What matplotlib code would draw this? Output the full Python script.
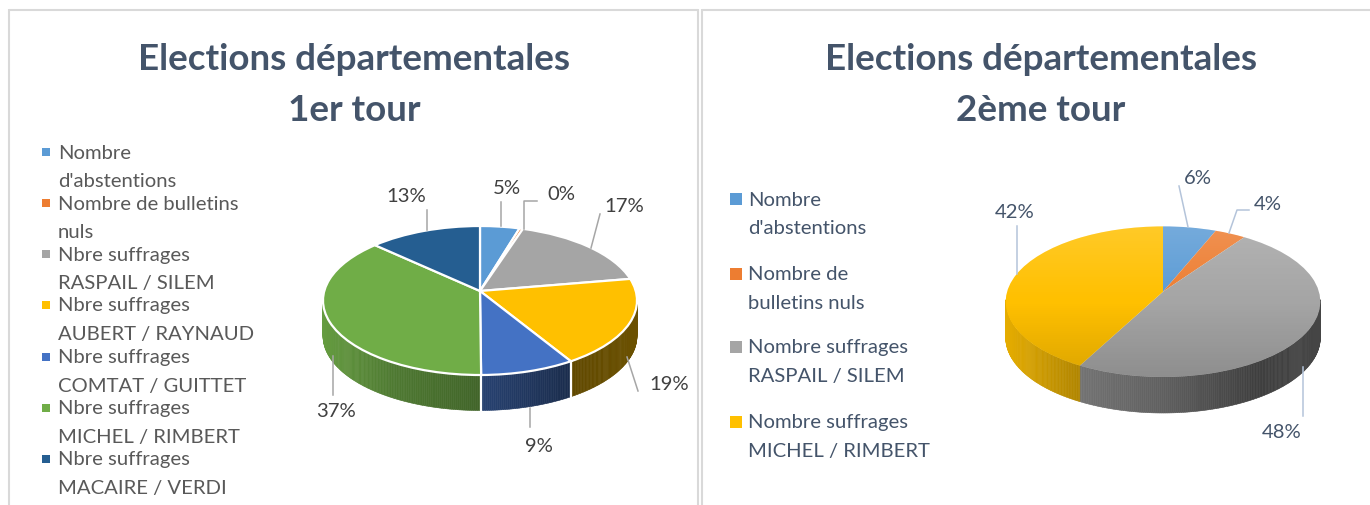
import numpy as np
import matplotlib
matplotlib.use("Agg")
import matplotlib.pyplot as plt
from matplotlib.patches import Rectangle, Circle
from matplotlib.transforms import Transform

# ---- data -----------------------------------------------------------
title_1 = "Elections départementales\n1er tour"
title_2 = "Elections départementales\n2ème tour"
labels_1 = ["Nombre\nd'abstentions", "Nombre de bulletins\nnuls",
            "Nbre suffrages\nRASPAIL / SILEM", "Nbre suffrages\nAUBERT / RAYNAUD",
            "Nbre suffrages\nCOMTAT / GUITTET", "Nbre suffrages\nMICHEL / RIMBERT",
            "Nbre suffrages\nMACAIRE / VERDI"]
values_1 = [4.6, 0.4, 17.3, 19.0, 8.6, 37.0, 13.1]
colors_1 = ["#5B9BD5", "#ED7D31", "#A5A5A5", "#FFC000", "#4472C4", "#70AD47", "#255E91"]
labels_2 = ["Nombre\nd'abstentions", "Nombre de\nbulletins nuls",
            "Nombre suffrages\nRASPAIL / SILEM", "Nombre suffrages\nMICHEL / RIMBERT"]
values_2 = [6.2, 3.6, 48.0, 42.2]
colors_2 = ["#5B9BD5", "#ED7D31", "#A5A5A5", "#FFC000"]

W, H = 1370, 506
FONT = ["Lato", "DejaVu Sans"]
plt.rcParams["font.family"] = FONT
fig = plt.figure(figsize=(W / 100, H / 100), dpi=100, facecolor="white")


class Tilt(Transform):
    """Perspective view of the unit disc; the result is a unit ellipse."""
    input_dims = output_dims = 2
    has_inverse = False
    is_separable = False

    def __init__(self, k):
        super().__init__()
        self.k = k

    def transform_non_affine(self, values):
        values = np.asarray(values, float)
        u, v = values[:, 0], values[:, 1]
        d = 1 + self.k * v
        return np.column_stack((np.sqrt(1 - self.k ** 2) * u / d, (v + self.k) / d))


def shade(hex_color, x):
    f = np.interp(x, [-1, -0.55, 0, 0.6, 1], [0.9, 0.7, 0.58, 0.38, 0.42])
    return tuple(c * f for c in matplotlib.colors.to_rgb(hex_color))


def pie3d(values, colors, cx, cy, A, B, apex_y, depth, white_edges, top_gradient):
    ax = fig.add_axes([(cx - A) / W, (H - (cy + B + depth)) / H, 2 * A / W, (2 * B + depth) / H])
    k = (cy - apex_y) / B
    tilt = Tilt(k)
    dd = depth / B
    wp = {"transform": tilt + ax.transData}
    wp.update({"edgecolor": "white", "linewidth": 1.6} if white_edges else {"linewidth": 0})
    ax.pie(values, colors=colors, startangle=90, counterclock=False, radius=1, wedgeprops=wp)
    for w in ax.patches:
        w.set_zorder(2)

    # side wall, derived from the same values
    edges = np.concatenate(([0], np.cumsum(values))) / np.sum(values) * 2 * np.pi
    for a0, a1, col in zip(edges[:-1], edges[1:], colors):
        ang = np.linspace(a0, a1, max(2, int((a1 - a0) * 90)))
        rim = tilt.transform_non_affine(np.column_stack((np.sin(ang), np.cos(ang))))
        for i in range(len(ang) - 1):
            p, q = rim[i], rim[i + 1]
            if p[1] > 0.02 and q[1] > 0.02:
                continue
            c = shade(col, (p[0] + q[0]) / 2)
            ax.fill([p[0], q[0], q[0], p[0]], [p[1], q[1], q[1] - dd, p[1] - dd],
                    facecolor=c, edgecolor=c, linewidth=0.4, zorder=1, clip_on=False)
        if white_edges and rim[-1][1] < 0 and a1 < 2 * np.pi - 1e-6:
            ax.plot([rim[-1][0]] * 2, [rim[-1][1], rim[-1][1] - dd], color="white", lw=1.6,
                    zorder=1.5, clip_on=False)

    if top_gradient:
        ys = np.linspace(1, 0, 256)[:, None]
        rgba = np.zeros((256, 1, 4))
        light = ys > 0.5
        rgba[..., :3] = np.where(light[..., None], 1.0, 0.0)
        rgba[..., 3] = np.where(light, (ys - 0.5) * 2 * 0.16, (0.5 - ys) * 2 * 0.14)
        im = ax.imshow(rgba, extent=(-1, 1, -1, 1), aspect="auto", zorder=3, interpolation="bilinear")
        im.set_clip_path(Circle((0, 0), 1, transform=ax.transData))

    ax.set_aspect("auto")
    ax.set_xlim(-1, 1)
    ax.set_ylim(-1 - dd, 1)
    ax.axis("off")


pie3d(values_1, colors_1, 480, 301.5, 157, 74.5, 292, 35.5, True, False)
pie3d(values_2, colors_2, 1163, 302.7, 157.3, 75.3, 292.7, 36, False, True)

# ---- pixel-space overlay: frames, titles, legends, labels -------------
ov = fig.add_axes([0, 0, 1, 1], zorder=5)
ov.set_xlim(0, W)
ov.set_ylim(H, 0)
ov.axis("off")

FRAME = "#D9D9D9"
for xs, ys in [([9, 9], [10, H]), ([9, 698], [10.5, 10.5]), ([698.5, 698.5], [10, H]),
               ([702, 702], [10, H]), ([702, W], [10.5, 10.5])]:
    ov.plot(xs, ys, color=FRAME, lw=1.5, solid_capstyle="butt")

TITLE = "#44546A"
for txt, x in [(title_1, 354), (title_2, 1041)]:
    a, b = txt.split("\n")
    ov.text(x, 59, a, ha="center", va="center", fontsize=26.5, fontweight="bold", color=TITLE)
    ov.text(x, 110, b, ha="center", va="center", fontsize=26.5, fontweight="bold", color=TITLE)

ys_1 = [153, 204, 255, 306, 358, 409, 460]
for lab, col, y in zip(labels_1, colors_1, ys_1):
    ov.add_patch(Rectangle((42, y - 4), 8, 8, facecolor=col, edgecolor="none"))
    for j, line in enumerate(lab.split("\n")):
        ov.text(58, y + j * 28.7, line, va="center", ha="left", fontsize=14.6, color="#595959")

ys_2 = [200, 275, 348, 423]
for lab, col, y in zip(labels_2, colors_2, ys_2):
    ov.add_patch(Rectangle((730, y - 6), 12, 12, facecolor=col, edgecolor="none"))
    for j, line in enumerate(lab.split("\n")):
        ov.text(748, y + j * 28.7, line, va="center", ha="left", fontsize=14.6, color=TITLE)

leaders_1 = [[(501, 203), (501, 227)], [(537, 202), (524, 202), (524, 230)],
             [(600, 215), (591, 249)], [(627, 358), (638, 392)], [(530, 409), (530, 428)],
             [(333, 357), (333, 396)], [(427, 211), (427, 231)]]
spots_1 = [(507, 188), (561, 195), (624, 207), (669, 385), (539, 447), (336, 412), (406, 197)]
for v, line, (x, y) in zip(values_1, leaders_1, spots_1):
    ov.plot(*zip(*line), color="#A6A6A6", lw=1.1)
    ov.text(x, y, f"{round(v)}%", ha="center", va="center", fontsize=14.6, color="#404040")

leaders_2 = [[(1179, 187), (1188, 228)], [(1249, 211), (1237, 211), (1229, 234)],
             [(1303, 368), (1303, 417)], [(1017, 227), (1017, 275)]]
spots_2 = [(1198, 178), (1268, 204), (1282, 433), (1015, 213)]
for v, line, (x, y) in zip(values_2, leaders_2, spots_2):
    ov.plot(*zip(*line), color="#B4C4DA", lw=1.1)
    ov.text(x, y, f"{round(v)}%", ha="center", va="center", fontsize=14.6, color=TITLE)

fig.savefig("out.png", dpi=100, facecolor="white")
